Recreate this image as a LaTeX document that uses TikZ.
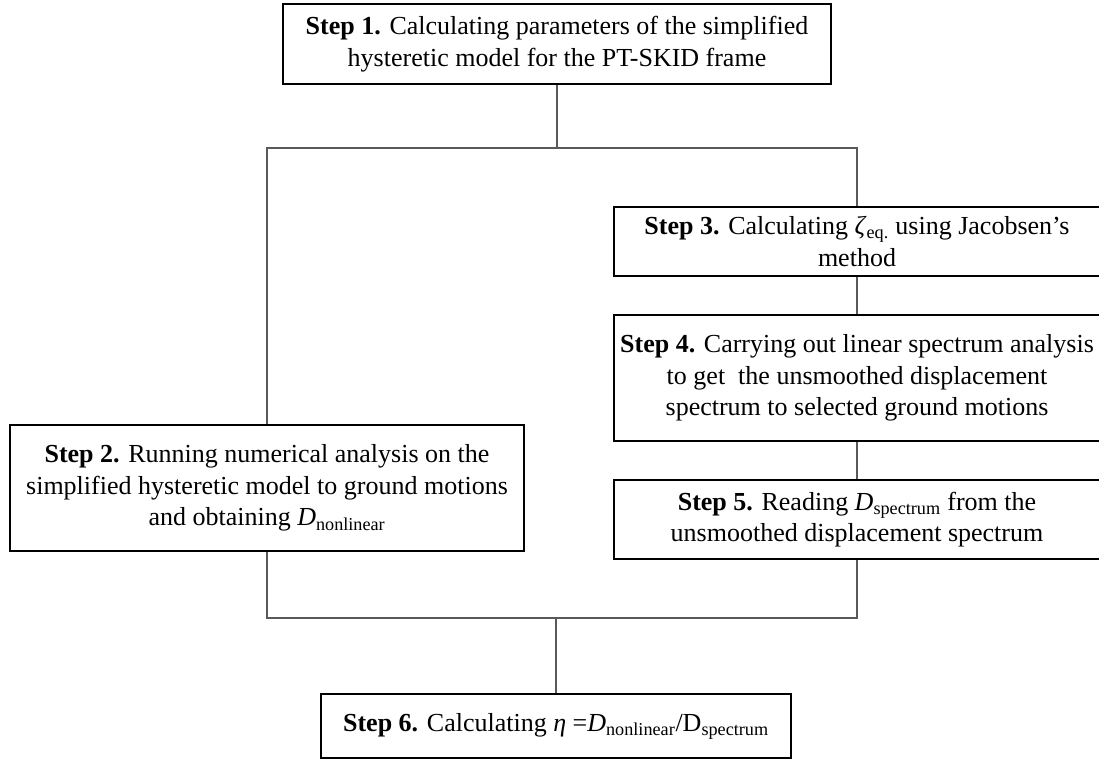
\documentclass[tikz,border=0pt]{standalone}
\usepackage{fontspec}
\setmainfont{Liberation Serif}
\usetikzlibrary{positioning}

\newcommand{\stepno}[1]{\textbf{Step #1.}}
\newcommand{\low}[1]{\textsubscript{#1}}

\tikzset{
  stepbox/.style={draw, line width=1.7pt, align=center, inner sep=0pt,
    font=\fontsize{19.5}{23.8}\selectfont},
  link/.style={draw=black!65, line width=0.8pt},
}

\begin{document}
\begin{tikzpicture}[x=0.75pt, y=-0.75pt]
    \useasboundingbox (0,0) rectangle (1099,760);

    \node[stepbox, minimum width=411pt, minimum height=60pt] (s1) at (557,44)
      {\stepno{1} Calculating parameters of the simplified\\%
       hysteretic model for the PT-SKID frame};

    \node[stepbox, minimum width=385.5pt, minimum height=94.5pt] (s2) at (267,488)
      {\stepno{2} Running numerical analysis on the\\%
       simplified hysteretic model to ground motions\\%
       and obtaining \textit{D}\low{nonlinear}};

    \node[stepbox, minimum width=364.5pt, minimum height=51.75pt] (s3) at (857,241.5)
      {\stepno{3} Calculating \textit{ζ}\low{eq.} using Jacobsen's\\%
       method};

    \node[stepbox, minimum width=364.5pt, minimum height=94.5pt] (s4) at (857,378)
      {\stepno{4} Carrying out linear spectrum analysis\\%
       to get \ the unsmoothed displacement\\%
       spectrum to selected ground motions};

    \node[stepbox, minimum width=364.5pt, minimum height=59.25pt] (s5) at (857,519.5)
      {\stepno{5} Reading \textit{D}\low{spectrum} from the\\%
       unsmoothed displacement spectrum};

    \node[stepbox, minimum width=352.5pt, minimum height=48pt] (s6) at (556,726)
      {\stepno{6} Calculating \textit{η} =\textit{D}\low{nonlinear}/D\low{spectrum}};

    % branch and merge points
    \coordinate (split) at (557,148);
    \coordinate (join) at (556,618);

    \draw[link] (s1) -- (split);
    \draw[link] (s2.north) |- (split) -| (s3.north);
    \draw[link] (s3) -- (s4);
    \draw[link] (s4) -- (s5);
    \draw[link] (s2.south) |- (join) -| (s5.south);
    \draw[link] (join) -- (s6);
\end{tikzpicture}
\end{document}
